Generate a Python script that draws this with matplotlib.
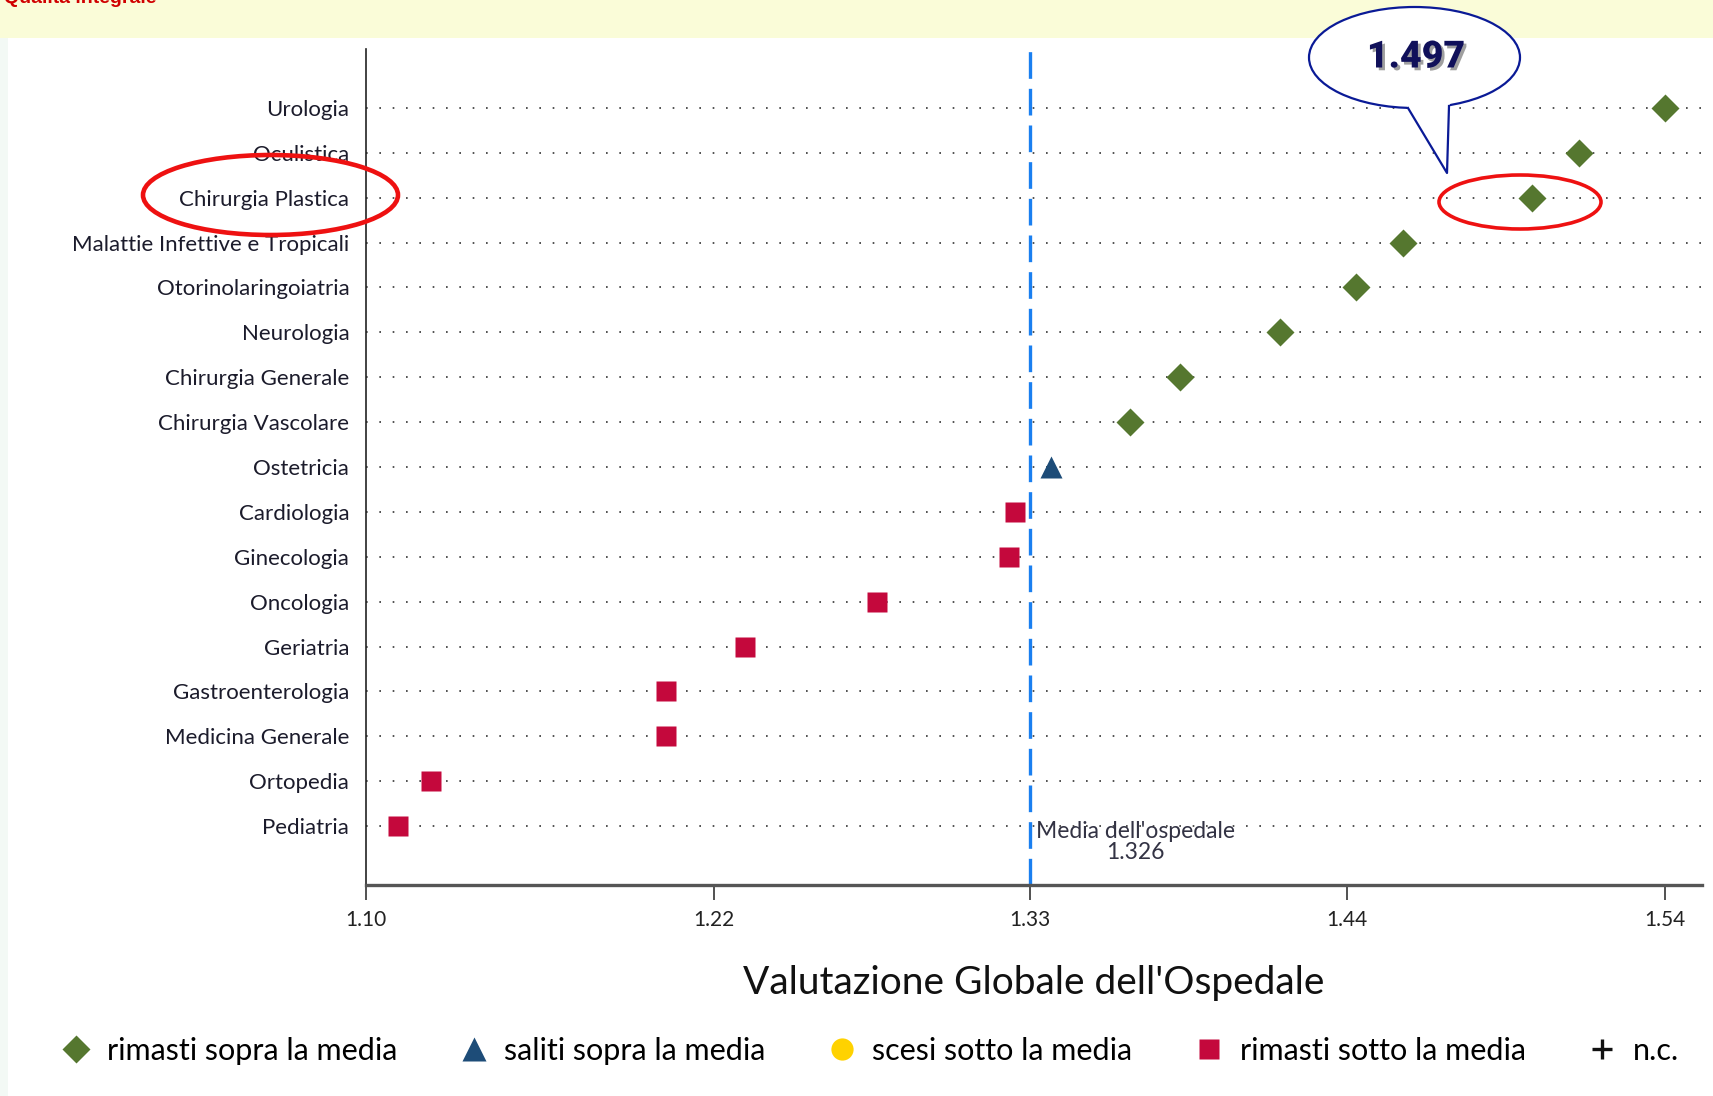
import matplotlib
matplotlib.use("Agg")
import matplotlib.pyplot as plt
import matplotlib.patheffects as pe
from matplotlib.lines import Line2D
from matplotlib.patches import Ellipse, Polygon, Rectangle

W, H = 1713, 1096

# Reparti, dall'alto verso il basso
reparti = [
    "Urologia", "Oculistica", "Chirurgia Plastica", "Malattie Infettive e Tropicali",
    "Otorinolaringoiatria", "Neurologia", "Chirurgia Generale", "Chirurgia Vascolare",
    "Ostetricia", "Cardiologia", "Ginecologia", "Oncologia", "Geriatria",
    "Gastroenterologia", "Medicina Generale", "Ortopedia", "Pediatria",
]
valori = [
    1.542, 1.513, 1.497, 1.453, 1.437, 1.411, 1.377, 1.360,
    1.333, 1.321, 1.319, 1.274, 1.229, 1.202, 1.202, 1.122, 1.111,
]
stato = ["sopra"] * 8 + ["salito"] + ["sotto"] * 8
media = 1.326
x_inizio = 1.10
tick_labels = ["1.10", "1.22", "1.33", "1.44", "1.54"]
legend_labels = ["rimasti sopra la media", "saliti sopra la media",
                 "scesi sotto la media", "rimasti sotto la media", "n.c."]

VERDE = "#55772F"
BLU = "#1D4C78"
GIALLO = "#FFD200"
ROSSO = "#C4083C"

stili = {
    "sopra": dict(marker="D", color=VERDE, ms=14),
    "salito": dict(marker="^", color=BLU, ms=16),
    "sotto": dict(marker="s", color=ROSSO, ms=15),
}

plt.rcParams["font.family"] = ["Lato", "DejaVu Sans"]


def fx(px):
    return px / W


def fy(py):
    return 1 - py / H


fig = plt.figure(figsize=(W / 100, H / 100), dpi=100)
fig.patch.set_facecolor("white")

# cornice della pagina
fig.add_artist(Rectangle((0, fy(38)), 1, 38 / H, transform=fig.transFigure,
                         facecolor="#FAFCD8", edgecolor="none", zorder=0))
fig.add_artist(Rectangle((0, 0), fx(8), fy(38), transform=fig.transFigure,
                         facecolor="#F3F9F5", edgecolor="none", zorder=0))
fig.text(fx(4), fy(3), "Qualità integrale", color="#D00000", fontsize=14,
         fontweight="bold", va="baseline", family=["Liberation Sans", "DejaVu Sans"])

ax = fig.add_axes([fx(366), fy(885), fx(1702) - fx(366), fy(49) - fy(885)])

n = len(reparti)
ypos = [n - i for i in range(n)]

for y in ypos:
    ax.axhline(y, color="#333333", lw=1.2, dashes=(1, 7), zorder=1)

ax.axvline(media, color="#1A7FF0", lw=2.4, dashes=(8, 3), zorder=2)

for s, st in stili.items():
    xs = [v for v, k in zip(valori, stato) if k == s]
    ys = [y for y, k in zip(ypos, stato) if k == s]
    ax.plot(xs, ys, ls="none", marker=st["marker"], color=st["color"],
            ms=st["ms"], mec="none", zorder=3)

ax.annotate(f"Media dell'ospedale\n{media:.3f}", xy=(media, 1), xytext=(4, 4),
            textcoords="offset points", ha="left", va="top", multialignment="center",
            fontsize=16.5, color="#333344", linespacing=1.05)

vmin, vmax = min(valori), max(valori)
ticks = [x_inizio, (vmin + media) / 2, media, (media + vmax) / 2, vmax]
ax.set_xticks(ticks)
ax.set_xticklabels(tick_labels)
ax.set_yticks(ypos)
ax.set_yticklabels(reparti)
ax.set_xlim(x_inizio, 1.5547)
ax.set_ylim(1 - 1.31, n + 1.31)

for side in ("top", "right"):
    ax.spines[side].set_visible(False)
ax.spines["left"].set_color("#222222")
ax.spines["left"].set_linewidth(1.2)
ax.spines["bottom"].set_color("#555555")
ax.spines["bottom"].set_linewidth(2.4)
ax.tick_params(axis="x", direction="out", length=11, width=1.2, color="#333333",
               pad=7, labelsize=15, labelcolor="#222222")
ax.tick_params(axis="y", length=0, pad=12, labelsize=16, labelcolor="#1B1B2B")
ax.set_xlabel("Valutazione Globale dell'Ospedale", fontsize=28, color="#111111",
              labelpad=25)

handles = [
    Line2D([], [], ls="none", marker="D", color=VERDE, ms=14, mec="none"),
    Line2D([], [], ls="none", marker="^", color=BLU, ms=17, mec="none"),
    Line2D([], [], ls="none", marker="o", color=GIALLO, ms=16, mec="none"),
    Line2D([], [], ls="none", marker="s", color=ROSSO, ms=15, mec="none"),
    Line2D([], [], ls="none", marker="+", color="#111111", ms=15, mew=2.4),
]
fig.legend(handles, legend_labels, loc="center left", bbox_to_anchor=(fx(61), fy(1051)),
           ncol=5, frameon=False, fontsize=22, handlelength=1.0, handletextpad=0.5,
           columnspacing=2.0, borderaxespad=0, borderpad=0)

# evidenziazioni
fig.add_artist(Ellipse((fx(270.5), fy(195)), 255 / W, 80 / H, transform=fig.transFigure,
                       fill=False, edgecolor="#EE1111", lw=3.3, zorder=5))
fig.add_artist(Ellipse((fx(1520), fy(202)), 162 / W, 54 / H, transform=fig.transFigure,
                       fill=False, edgecolor="#EE1111", lw=2.6, zorder=5))

# fumetto
fig.add_artist(Ellipse((fx(1414.5), fy(57.5)), 211 / W, 101 / H, transform=fig.transFigure,
                       facecolor="white", edgecolor="#0A1A96", lw=1.6, zorder=6))
fig.add_artist(Polygon([(fx(1404), fy(98)), (fx(1408), fy(108)), (fx(1447), fy(173)),
                        (fx(1449), fy(106)), (fx(1453), fy(98))],
                       transform=fig.transFigure, facecolor="white", edgecolor="none",
                       zorder=7))
fig.add_artist(Line2D([fx(1408), fx(1447), fx(1449)], [fy(108), fy(173), fy(106)],
                      transform=fig.transFigure, color="#0A1A96", lw=1.6, zorder=8))
fig.text(fx(1416), fy(57), f"{valori[2]:.3f}", ha="center", va="center", fontsize=27,
         fontweight="black", color="#10105A", family=["Roboto", "DejaVu Sans"], zorder=9,
         path_effects=[pe.withSimplePatchShadow(offset=(2, -2), shadow_rgbFace="#777777",
                                                alpha=0.7)])

fig.savefig("out.png", dpi=100, facecolor=fig.get_facecolor())
